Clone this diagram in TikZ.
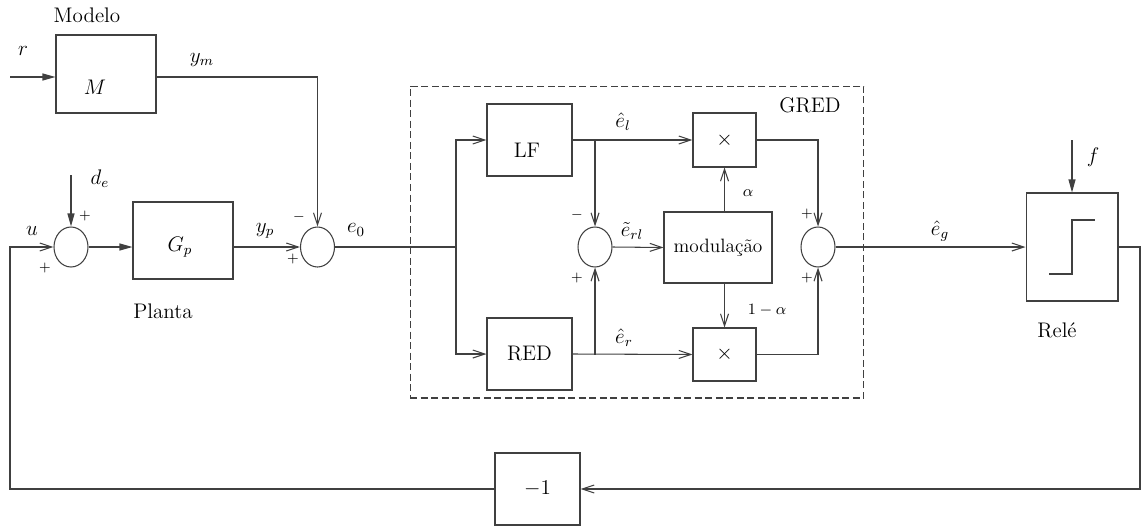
\documentclass[tikz,border=0pt]{standalone}
\usepackage{fontspec}
\usepackage{tikz}
\usetikzlibrary{shapes.geometric, arrows.meta, positioning, calc}
\definecolor{lineGray}{HTML}{404040}

\begin{document}
\begin{tikzpicture}[
  x=0.02cm, y=-0.02cm,
  every node/.style={font=\large},
  block/.style={rectangle, draw=lineGray, line width=0.6pt, inner sep=0pt},
  sum/.style={ellipse, draw=lineGray, line width=0.6pt, minimum width=0.68cm, minimum height=0.8cm, inner sep=0pt},
  sign/.style={font=\footnotesize, inner sep=0pt},
  wire/.style={draw=lineGray, line width=0.6pt},
  arrow/.style={wire, -{Straight Barb[length=2.4mm, width=1.6mm]}},
  fillarrow/.style={wire, -{Triangle[length=2.6mm, width=1.4mm]}},
]
\useasboundingbox (0,0) rectangle (1141,527);

% === MODELO ===
\node (modelo) at (87,15) {Modelo};
\node[block, minimum width=2cm, minimum height=1.56cm] (model) at (106,74) {};
\node (mtext) at (95,87) {$M$};
\coordinate (rin) at (10,77);
\node (rlabel) at (23,51) {$r$};
\node (ymlabel) at (202,60) {$y_m$};

% === PLANTA ===
\node[sum] (sum1) at (71,247) {};
\node[block, minimum width=2cm, minimum height=1.54cm] (plant) at (183,240.5) {};
\node (gptext) at (180,247) {$G_p$};
\node (planta) at (163,311) {Planta};
\coordinate (din) at (71,175);
\node (delabel) at (100,179) {$d_e$};
\node[sign] (s1a) at (85,216) {$+$};
\node[sign] (s1b) at (45,268) {$+$};
\node (ulabel) at (32,231) {$u$};

\node[sum] (sum2) at (317.5,247) {};
\node (yplabel) at (265,231) {$y_p$};
\node[sign] (s2a) at (299,217) {$-$};
\node[sign] (s2b) at (293,259) {$+$};
\node (e0label) at (356,230) {$e_0$};

% === GRED ===
\node[draw=lineGray, line width=0.6pt, dash pattern=on 4pt off 2pt, minimum width=9.08cm, minimum height=6.24cm] (gred) at (637,242) {};
\node (gredlabel) at (810,105) {GRED};

\node[block, minimum width=1.7cm, minimum height=1.44cm] (lf) at (529.5,140) {};
\node (lftext) at (527,150) {LF};
\node[block, minimum width=1.7cm, minimum height=1.44cm] (red) at (529.5,354) {RED};

\node[block, minimum width=1.26cm, minimum height=1.08cm] (mult1) at (724.5,140) {$\times$};
\node[block, minimum width=1.26cm, minimum height=1.06cm] (mult2) at (724.5,354.5) {$\times$};
\node[block, minimum width=2.16cm, minimum height=1.42cm, font=\fontsize{11}{13}\selectfont] (mod) at (718,247.5) {modulação};

\node[sum] (sum3) at (595,247) {};
\node[sign] (s3a) at (577,215) {$-$};
\node[sign] (s3b) at (577,278) {$+$};
\node[sum] (sum4) at (818,247) {};
\node[sign] (s4a) at (807,214) {$+$};
\node[sign] (s4b) at (807,278) {$+$};

\node (ellabel) at (623,122) {$\hat{e}_l$};
\node (erlabel) at (624,338) {$\hat{e}_r$};
\node (erllabel) at (632,231) {$\tilde{e}_{rl}$};
\node[font=\small] (alabel) at (748,193) {$\alpha$};
\node[font=\small] (blabel) at (767,310) {$1-\alpha$};

% === RELE ===
\node[block, minimum width=1.84cm, minimum height=2.16cm] (relay) at (1072,247) {};
\node (rele) at (1057,330) {Relé};
\coordinate (fin) at (1072,140);
\node (flabel) at (1093,157) {$f$};
\node (eglabel) at (940,231) {$\hat{e}_g$};
\draw[wire] ($(relay.center)+(-23,27)$) -- ++(23,0) -- ++(0,-54) -- ++(23,0);

% === REALIMENTACAO ===
\node[block, minimum width=1.7cm, minimum height=1.44cm] (neg) at (537.5,489) {$-1$};
\coordinate (fbl) at (10,489);
\coordinate (fbr) at (1140,489);

% === ARROWS: Modelo e Planta ===
\draw[fillarrow] (rin) -- (rin -| model.west);
\draw[arrow] (rin -| model.east) -| (sum2.north);
\draw[fillarrow] (din) -- (sum1.north);
\draw[arrow] (neg.west) -- (fbl) |- (sum1.west);
\draw[fillarrow] (sum1.east) -- (sum1.east -| plant.west);
\draw[arrow] (sum1.east -| plant.east) -- (sum2.west);

% === ARROWS: GRED ===
\coordinate (split) at (456,247);
\coordinate (ltap) at (595,140);
\coordinate (rtap) at (595,354.5);
\draw[wire] (sum2.east) -- (split);
\draw[arrow] (split) |- (lf.west);
\draw[arrow] (split) |- (red.west);
\draw[arrow] (lf.east) -- (mult1.west);
\draw[arrow] (ltap) -- (sum3.north);
\draw[arrow] (red.east) -- (mult2.west);
\draw[arrow] (rtap) -- (sum3.south);
\draw[arrow] (sum3.east) -- (mod.west);
\draw[arrow] (mult1.south |- mod.north) -- (mult1.south);
\draw[arrow] (mult2.north |- mod.south) -- (mult2.north);
\draw[arrow] (mult1.east) -| (sum4.north);
\draw[arrow] (mult2.east) -| (sum4.south);

% === ARROWS: Rele ===
\draw[arrow] (sum4.east) -- (relay.west);
\draw[fillarrow] (fin) -- (relay.north);
\draw[arrow] (relay.east) -| (fbr) -- (neg.east);

\end{tikzpicture}
\end{document}
